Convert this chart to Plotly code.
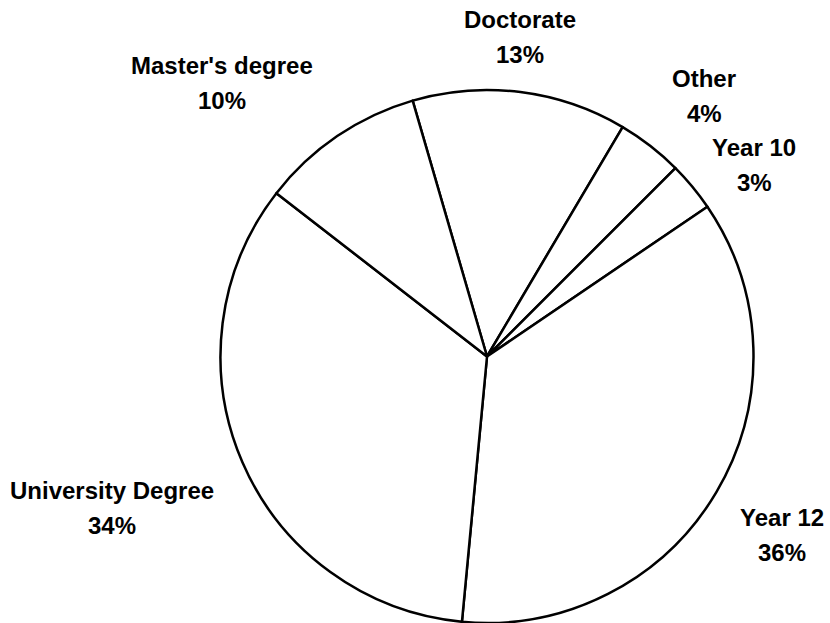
import plotly.graph_objects as go

# Data (clockwise from the Doctorate slice)
categories = ["Doctorate", "Other", "Year 10", "Year 12", "University Degree", "Master's degree"]
values = [13, 4, 3, 36, 34, 10]

# Layout for the text labels (pixel centres of each label block, from top-left)
W, H = 830, 623
label_x = [520, 704, 754, 782, 112, 222]
label_y = [37, 96, 165, 535, 508, 83]
LINE_GAP = 35

total = sum(values)
pcts = [f"{round(v / total * 100)}%" for v in values]

fig = go.Figure(go.Pie(
    labels=categories,
    values=values,
    sort=False,
    direction="clockwise",
    rotation=-16.2,
    textinfo="none",
    hoverinfo="label+percent",
    marker=dict(colors=["white"] * len(values), line=dict(color="black", width=2.5)),
    domain=dict(x=[219 / W, 755 / W], y=[0, 1 - 90 / H]),
    showlegend=False,
))

font = dict(family="Liberation Sans, Arial, sans-serif", size=24, color="black")
annotations = []
for name, pct, x, y in zip(categories, pcts, label_x, label_y):
    annotations.append(dict(x=x / W, y=1 - (y - LINE_GAP / 2) / H, xref="paper", yref="paper",
                            text=f"<b>{name}</b>", showarrow=False, font=font,
                            xanchor="center", yanchor="middle"))
    annotations.append(dict(x=x / W, y=1 - (y + LINE_GAP / 2) / H, xref="paper", yref="paper",
                            text=f"<b>{pct}</b>", showarrow=False, font=font,
                            xanchor="center", yanchor="middle"))

fig.update_layout(
    width=W, height=H,
    margin=dict(l=0, r=0, t=0, b=0),
    paper_bgcolor="white",
    plot_bgcolor="white",
    annotations=annotations,
)

fig.write_html("out.html", config={"displayModeBar": False},
               post_script="document.body.style.margin='0';")
